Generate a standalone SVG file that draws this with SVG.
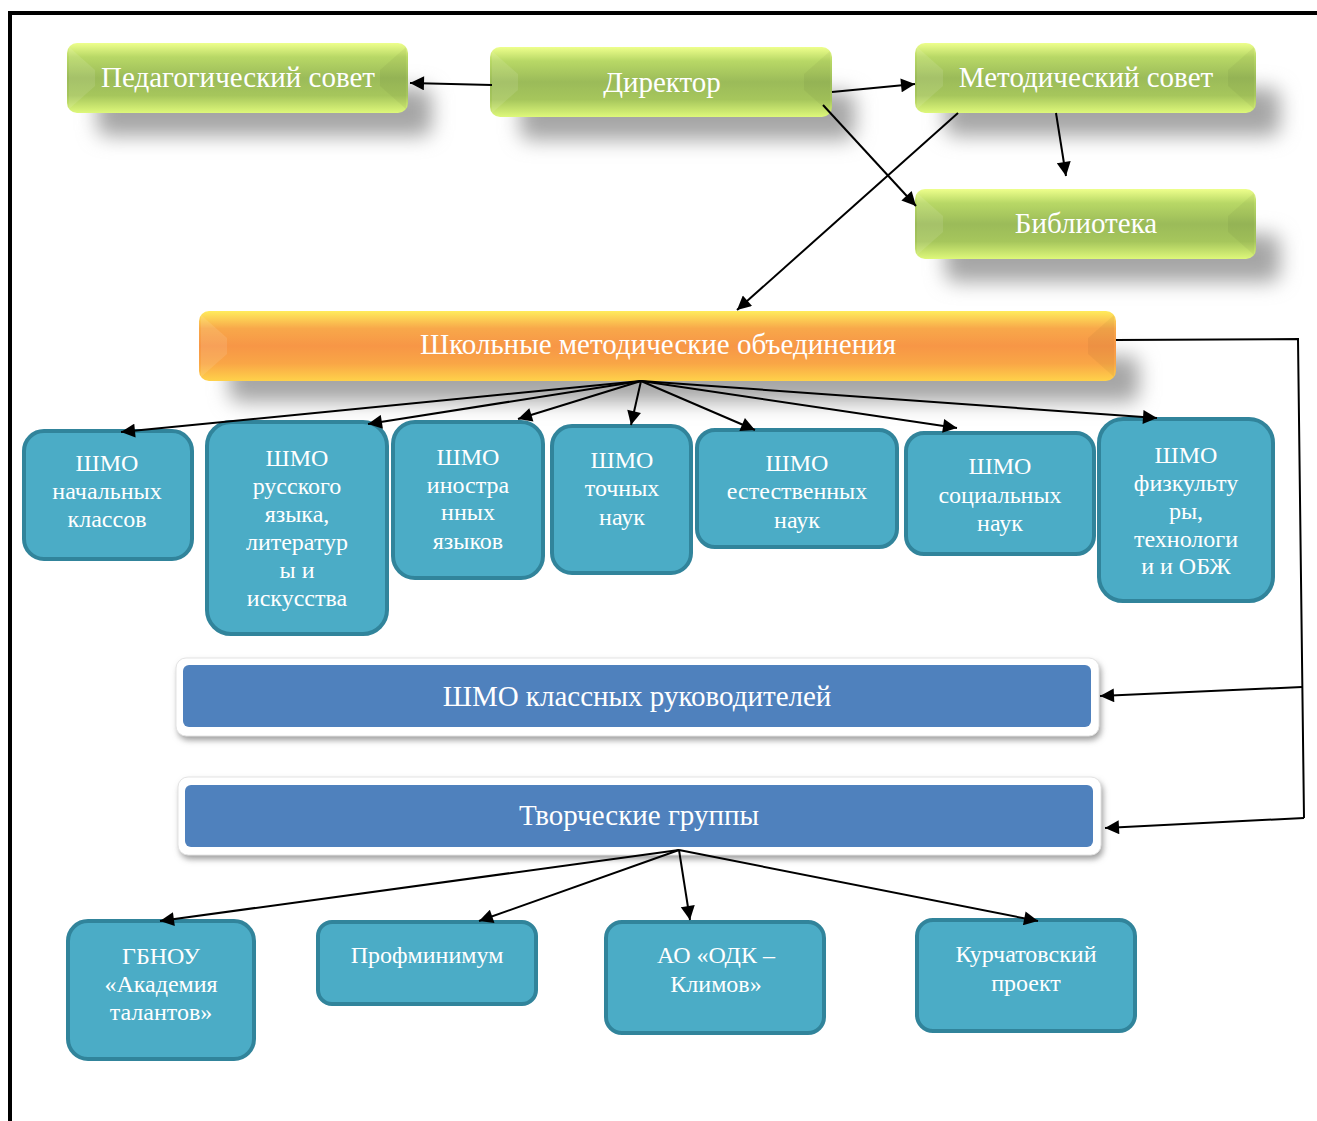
<svg xmlns="http://www.w3.org/2000/svg" width="1317" height="1121" viewBox="0 0 1317 1121">
<style>
.t{font-family:"Liberation Serif","Times New Roman",serif;fill:#fff;text-anchor:middle}
.big{font-size:29px}
.sm{font-size:24px}
.teal{fill:#4bacc6;stroke:#31849b;stroke-width:4}
.con{stroke:#000;stroke-width:2;fill:none}
.arr{marker-end:url(#ah)}
.shadow{fill:#a6a6a6;filter:url(#blur)}
.facetL{fill:#fff;opacity:0.10}
.facetR{fill:#000;opacity:0.04}
</style>
<defs>
<linearGradient id="gGreen" x1="0" y1="0" x2="0" y2="1">
<stop offset="0" stop-color="#eeff8c"/>
<stop offset="0.2" stop-color="#b8d866"/>
<stop offset="0.5" stop-color="#9bbb59"/>
<stop offset="0.75" stop-color="#a6c65c"/>
<stop offset="1" stop-color="#def87a"/>
</linearGradient>
<linearGradient id="gOrange" x1="0" y1="0" x2="0" y2="1">
<stop offset="0" stop-color="#ffec5c"/>
<stop offset="0.25" stop-color="#f8a84a"/>
<stop offset="0.5" stop-color="#f79646"/>
<stop offset="0.75" stop-color="#f9a646"/>
<stop offset="1" stop-color="#ffd24a"/>
</linearGradient>
<filter id="blur" x="-20%" y="-60%" width="140%" height="220%">
<feGaussianBlur stdDeviation="10"/>
</filter>
<filter id="blur2" x="-10%" y="-50%" width="120%" height="200%">
<feGaussianBlur stdDeviation="3"/>
</filter>
<marker id="ah" viewBox="0 0 10 10" refX="10" refY="5" markerWidth="17" markerHeight="14" markerUnits="userSpaceOnUse" orient="auto">
<path d="M0,0 L10,5 L0,10 z" fill="#000"/>
</marker>
</defs>

<rect x="0" y="0" width="1317" height="1121" fill="#fff"/>
<g id="frame">
<line x1="8" y1="13" x2="1317" y2="13" stroke="#000" stroke-width="4"/>
<line x1="10" y1="11" x2="10" y2="1121" stroke="#000" stroke-width="4"/>
</g>

<g id="shadows">
<rect class="shadow" x="97" y="88" width="335" height="48" rx="10"/>
<rect class="shadow" x="520" y="92" width="335" height="48" rx="10"/>
<rect class="shadow" x="945" y="88" width="335" height="48" rx="10"/>
<rect class="shadow" x="945" y="234" width="335" height="48" rx="10"/>
<rect class="shadow" x="229" y="356" width="910" height="46" rx="10"/>
</g>

<g id="ped">
<rect x="67" y="43" width="341" height="70" rx="10" fill="url(#gGreen)"/>
<polygon class="facetL" points="69,47 95,70 95,86 69,109"/>
<polygon class="facetR" points="406,47 380,70 380,86 406,109"/>
<text class="t big" x="238" y="87">Педагогический совет</text>
</g>
<g id="director">
<rect x="490" y="47" width="342" height="70" rx="10" fill="url(#gGreen)"/>
<polygon class="facetL" points="492,51 518,74 518,90 492,113"/>
<polygon class="facetR" points="830,51 804,74 804,90 830,113"/>
<text class="t big" x="662" y="92">Директор</text>
</g>
<g id="metsovet">
<rect x="915" y="43" width="341" height="70" rx="10" fill="url(#gGreen)"/>
<polygon class="facetL" points="917,47 943,70 943,86 917,109"/>
<polygon class="facetR" points="1254,47 1228,70 1228,86 1254,109"/>
<text class="t big" x="1086" y="87">Методический совет</text>
</g>
<g id="library">
<rect x="915" y="189" width="341" height="70" rx="10" fill="url(#gGreen)"/>
<polygon class="facetL" points="917,193 943,216 943,232 917,255"/>
<polygon class="facetR" points="1254,193 1228,216 1228,232 1254,255"/>
<text class="t big" x="1086" y="233">Библиотека</text>
</g>
<g id="shmo">
<rect x="199" y="311" width="917" height="70" rx="10" fill="url(#gOrange)"/>
<polygon class="facetL" points="201,315 227,338 227,354 201,377"/>
<polygon class="facetR" points="1114,315 1088,338 1088,354 1114,377"/>
<text class="t big" x="658" y="354">Школьные методические объединения</text>
</g>

<g id="b1">
<rect class="teal" x="24" y="431" width="168" height="128" rx="20"/>
<text class="t sm" x="107" y="471">ШМО</text>
<text class="t sm" x="107" y="499">начальных</text>
<text class="t sm" x="107" y="527">классов</text>
</g>
<g id="b2">
<rect class="teal" x="207" y="422" width="180" height="212" rx="24"/>
<text class="t sm" x="297" y="466">ШМО</text>
<text class="t sm" x="297" y="494">русского</text>
<text class="t sm" x="297" y="522">языка,</text>
<text class="t sm" x="297" y="550">литератур</text>
<text class="t sm" x="297" y="578">ы и</text>
<text class="t sm" x="297" y="606">искусства</text>
</g>
<g id="b3">
<rect class="teal" x="393" y="422" width="150" height="156" rx="22"/>
<text class="t sm" x="468" y="465">ШМО</text>
<text class="t sm" x="468" y="493">иностра</text>
<text class="t sm" x="468" y="520">нных</text>
<text class="t sm" x="468" y="549">языков</text>
</g>
<g id="b4">
<rect class="teal" x="552" y="426" width="139" height="147" rx="20"/>
<text class="t sm" x="622" y="468">ШМО</text>
<text class="t sm" x="622" y="496">точных</text>
<text class="t sm" x="622" y="525">наук</text>
</g>
<g id="b5">
<rect class="teal" x="697" y="430" width="200" height="117" rx="18"/>
<text class="t sm" x="797" y="471">ШМО</text>
<text class="t sm" x="797" y="499">естественных</text>
<text class="t sm" x="797" y="528">наук</text>
</g>
<g id="b6">
<rect class="teal" x="906" y="433" width="188" height="121" rx="18"/>
<text class="t sm" x="1000" y="474">ШМО</text>
<text class="t sm" x="1000" y="503">социальных</text>
<text class="t sm" x="1000" y="531">наук</text>
</g>
<g id="b7">
<rect class="teal" x="1099" y="419" width="174" height="182" rx="24"/>
<text class="t sm" x="1186" y="463">ШМО</text>
<text class="t sm" x="1186" y="491">физкульту</text>
<text class="t sm" x="1186" y="519">ры,</text>
<text class="t sm" x="1186" y="547">технологи</text>
<text class="t sm" x="1186" y="574">и и ОБЖ</text>
</g>

<g id="klass">
<rect x="176" y="659" width="923" height="78" rx="10" fill="#9a9a9a" filter="url(#blur2)" transform="translate(2,3)"/>
<rect x="176" y="658" width="923" height="78" rx="10" fill="#fff" stroke="#e4e4e4" stroke-width="1"/>
<rect x="183" y="665" width="908" height="62" rx="6" fill="#4f81bd"/>
<text class="t big" x="637" y="706">ШМО классных руководителей</text>
</g>
<g id="tvorch">
<rect x="178" y="778" width="923" height="78" rx="10" fill="#9a9a9a" filter="url(#blur2)" transform="translate(2,3)"/>
<rect x="178" y="777" width="923" height="78" rx="10" fill="#fff" stroke="#e4e4e4" stroke-width="1"/>
<rect x="185" y="785" width="908" height="62" rx="6" fill="#4f81bd"/>
<text class="t big" x="639" y="825">Творческие группы</text>
</g>

<g id="c1">
<rect class="teal" x="68" y="921" width="186" height="138" rx="20"/>
<text class="t sm" x="161" y="964">ГБНОУ</text>
<text class="t sm" x="161" y="992">«Академия</text>
<text class="t sm" x="161" y="1020">талантов»</text>
</g>
<g id="c2">
<rect class="teal" x="318" y="922" width="218" height="82" rx="14"/>
<text class="t sm" x="427" y="963">Профминимум</text>
</g>
<g id="c3">
<rect class="teal" x="606" y="922" width="218" height="111" rx="16"/>
<text class="t sm" x="716" y="963">АО «ОДК –</text>
<text class="t sm" x="716" y="992">Климов»</text>
</g>
<g id="c4">
<rect class="teal" x="917" y="920" width="218" height="111" rx="16"/>
<text class="t sm" x="1026" y="962">Курчатовский</text>
<text class="t sm" x="1026" y="991">проект</text>
</g>

<g id="connectors">
<line class="con arr" x1="492" y1="85" x2="410" y2="83"/>
<line class="con arr" x1="832" y1="92" x2="915" y2="84"/>
<line class="con arr" x1="823" y1="105" x2="916" y2="206"/>
<line class="con arr" x1="958" y1="113" x2="737" y2="310"/>
<line class="con arr" x1="1056" y1="113" x2="1066" y2="176"/>
<polyline class="con" points="1116,340 1298,339 1304,818"/>
<line class="con arr" x1="1302" y1="687" x2="1100" y2="696"/>
<line class="con arr" x1="1304" y1="818" x2="1105" y2="828"/>
<line class="con arr" x1="641" y1="381" x2="121" y2="432"/>
<line class="con arr" x1="641" y1="381" x2="368" y2="424"/>
<line class="con arr" x1="641" y1="381" x2="518" y2="419"/>
<line class="con arr" x1="641" y1="381" x2="631" y2="425"/>
<line class="con arr" x1="641" y1="381" x2="755" y2="430"/>
<line class="con arr" x1="641" y1="381" x2="957" y2="428"/>
<line class="con arr" x1="641" y1="381" x2="1157" y2="418"/>
<line class="con arr" x1="679" y1="850" x2="160" y2="921"/>
<line class="con arr" x1="679" y1="850" x2="479" y2="921"/>
<line class="con arr" x1="679" y1="850" x2="690" y2="920"/>
<line class="con arr" x1="679" y1="850" x2="1038" y2="921"/>
</g>
</svg>
